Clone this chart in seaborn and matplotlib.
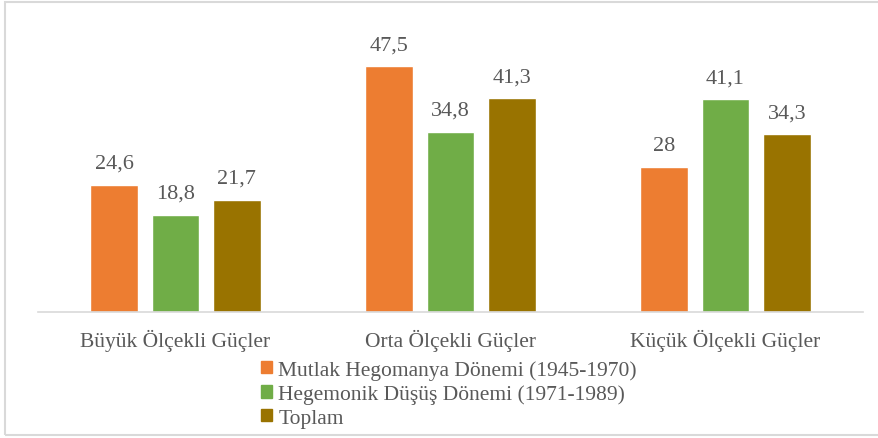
import pandas as pd
import numpy as np
import seaborn as sns
import matplotlib.pyplot as plt
from matplotlib.patches import Rectangle

categories = ['Büyük Ölçekli Güçler', 'Orta Ölçekli Güçler', 'Küçük Ölçekli Güçler']
series = ['Mutlak Hegomanya Dönemi (1945-1970)', 'Hegemonik Düşüş Dönemi (1971-1989)', 'Toplam']
mutlak = [24.6, 47.5, 28]
dusus = [18.8, 34.8, 41.1]
toplam = [21.7, 41.3, 34.3]
colors = ['#ED7D31', '#70AD47', '#997300']

df = pd.DataFrame({
    'kategori': categories * 3,
    'donem': [series[0]] * 3 + [series[1]] * 3 + [series[2]] * 3,
    'deger': mutlak + dusus + toplam,
})

sns.set_style('white')
plt.rcParams['font.family'] = ['Liberation Serif', 'DejaVu Serif']
txt = '#595959'

fig = plt.figure(figsize=(8.79, 4.39), dpi=100)
ax = fig.add_axes([38 / 879, 126 / 439, 825 / 879, 293 / 439])

sns.barplot(data=df, x='kategori', y='deger', hue='donem', palette=colors,
            saturation=1, width=0.67, gap=0.22, ax=ax, legend=False)

ax.set_ylim(0, 293 / 5.18)
ax.set_xlim(-0.5, 2.5)
ax.set_xlabel('')
ax.set_ylabel('')
ax.set_yticks([])
for s in ['top', 'right', 'left']:
    ax.spines[s].set_visible(False)
ax.spines['bottom'].set_color('#D9D9D9')
ax.spines['bottom'].set_linewidth(1.2)
ax.tick_params(axis='x', length=0, pad=12, labelsize=15.5, labelcolor=txt)

for cont in ax.containers:
    labels = [('%g' % b.get_height()).replace('.', ',') for b in cont]
    ax.bar_label(cont, labels=labels, padding=8.5, fontsize=16, color=txt)

handles = [Rectangle((0, 0), 1, 1, color=c) for c in colors]
fig.legend(handles, series, loc='upper left', bbox_to_anchor=(261 / 879, 1 - 361 / 439),
           frameon=False, fontsize=15.5, labelcolor=txt, handlelength=0.5, handleheight=0.5,
           handletextpad=0.3, labelspacing=0.22, borderpad=0, borderaxespad=0)

fig.patches.append(Rectangle((5 / 879, 3 / 439), 1.0, 433 / 439, transform=fig.transFigure,
                             fill=False, edgecolor='#D9D9D9', linewidth=1.5))

fig.savefig('out.png', dpi=100)
